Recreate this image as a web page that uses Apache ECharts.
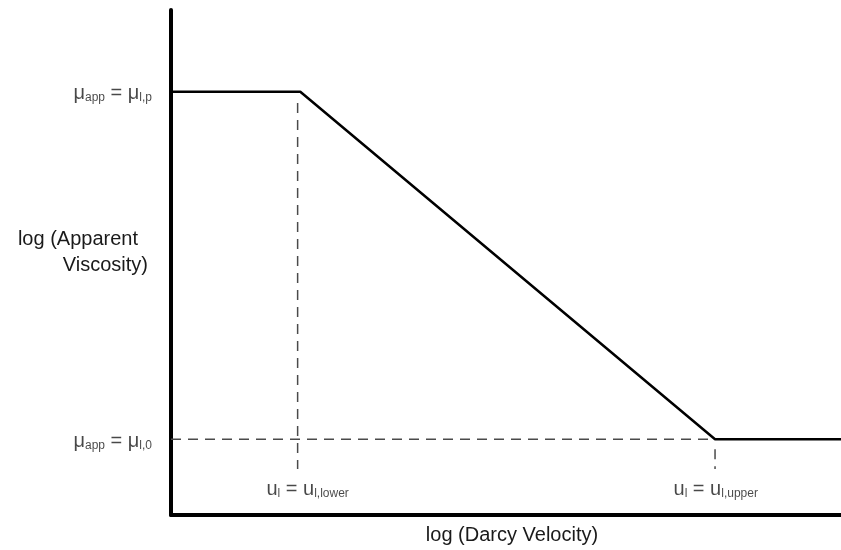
<!DOCTYPE html>
<html>
<head>
<meta charset="utf-8">
<script src="https://cdn.jsdelivr.net/npm/echarts@6/dist/echarts.min.js"></script>
<style>html,body{margin:0;padding:0;background:#fff}#c{width:841px;height:550px}</style>
</head>
<body>
<div id="c"></div>
<script>
// Schematic: log(Darcy velocity) vs log(apparent viscosity), axes 0..100 (arbitrary units)
const curveX = [0, 19.3, 81.2, 100];
const curveY = [83.8, 83.8, 15.0, 15.0];
const dashHX = [0, 81.2];
const dashHY = [15.0, 15.0];
const dashLowerX = [18.9, 18.9];
const dashLowerY = [81.6, 9.1];
const dashUpperX = [81.2, 81.2];
const dashUpperY = [13.0, 9.1];
const yTickValues = [83.8, 15.0];
const yTickLabels = ['{m|μ}{s|app}{m| = μ}{s|l,p}', '{m|μ}{s|app}{m| = μ}{s|l,0}'];
const xTickValues = [20.4, 81.3];
const xTickLabelY = [5.5, 5.5];
const xTickLabels = ['{m|u}{s|l}{m| = u}{s|l,lower}', '{m|u}{s|l}{m| = u}{s|l,upper}'];
const xTitle = 'log (Darcy Velocity)';
const yTitle = '{t|log (Apparent\u2002}\n{t|Viscosity)}\n{sp| }';

const FONT = 'Liberation Sans, Arial, sans-serif';
const rich = {
  m: {fontSize: 20, fontFamily: FONT, color: '#1a1a1a', verticalAlign: 'bottom', lineHeight: 24},
  s: {fontSize: 12, fontFamily: FONT, color: '#1a1a1a', verticalAlign: 'bottom', lineHeight: 9}
};
const zip = (a, b) => a.map((v, i) => [v, b[i]]);
const dashStyle = {color: '#4a4a4a', width: 1.5, type: [10, 7]};

const chart = echarts.init(document.getElementById('c'), null, {renderer: 'canvas'});
chart.setOption({
  animation: false,
  backgroundColor: '#fff',
  grid: {left: 171, right: 0, top: 10, bottom: 34, containLabel: false},
  xAxis: {
    type: 'value', min: 0, max: 100,
    name: xTitle, nameLocation: 'middle', nameGap: 10,
    nameTextStyle: {fontSize: 20, fontFamily: FONT, color: '#1a1a1a', verticalAlign: 'top', padding: [0, 0, 0, 12]},
    axisLine: {show: true, lineStyle: {color: '#000', width: 4}},
    axisTick: {show: false}, axisLabel: {show: false}, splitLine: {show: false}
  },
  yAxis: {
    type: 'value', min: 0, max: 100,
    name: yTitle, nameLocation: 'middle', nameGap: 23, nameRotate: 0,
    nameTextStyle: {
      align: 'right',
      rich: {
        sp: {fontSize: 10, lineHeight: 20},
        t: {fontSize: 20, fontFamily: FONT, color: '#1a1a1a', lineHeight: 26, align: 'right'}
      }
    },
    axisLine: {show: true, lineStyle: {color: '#000', width: 4}},
    axisTick: {show: false}, axisLabel: {show: false}, splitLine: {show: false}
  },
  series: [
    {type: 'line', data: zip(dashHX, dashHY), symbol: 'none', lineStyle: dashStyle, z: 1},
    {type: 'line', data: zip(dashLowerX, dashLowerY), symbol: 'none', lineStyle: dashStyle, z: 1},
    {type: 'line', data: zip(dashUpperX, dashUpperY), symbol: 'none', lineStyle: dashStyle, z: 1},
    {type: 'line', data: zip(curveX, curveY), symbol: 'none', lineStyle: {color: '#000', width: 2.5}, z: 3},
    {type: 'scatter', symbolSize: 0, silent: true,
      data: yTickValues.map((v, i) => ({value: [0, v], label: {formatter: yTickLabels[i]}})),
      label: {show: true, position: 'left', distance: 19, rich: rich}},
    {type: 'scatter', symbolSize: 0, silent: true,
      data: xTickValues.map((v, i) => ({value: [v, xTickLabelY[i]], label: {formatter: xTickLabels[i]}})),
      label: {show: true, position: 'inside', rich: rich}}
  ]
});
</script>
</body>
</html>
